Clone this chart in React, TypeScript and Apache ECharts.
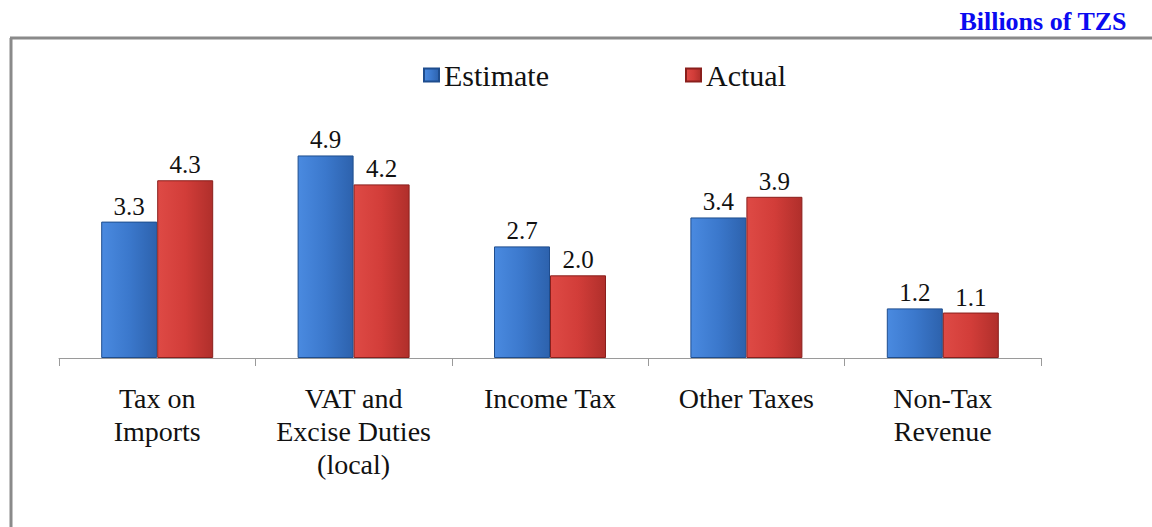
import React, { useEffect, useRef } from "react";
import * as echarts from "echarts";

const categories = ["Tax on\nImports", "VAT and\nExcise Duties\n(local)", "Income Tax", "Other Taxes", "Non-Tax\nRevenue"];
const estimate = [3.3, 4.9, 2.7, 3.4, 1.2];
const actual = [4.3, 4.2, 2.0, 3.9, 1.1];
const unitLabel = "Billions of TZS";

const serif = "'Liberation Serif', 'Times New Roman', serif";

export default function App() {
  const ref = useRef<HTMLDivElement>(null);
  useEffect(() => {
    document.body.style.margin = "0";
    const chart = echarts.init(ref.current!, null, { renderer: "svg" });
    const blue = new echarts.graphic.LinearGradient(0, 0, 1, 0, [
      { offset: 0, color: "#4a8ae0" },
      { offset: 0.5, color: "#3b78cc" },
      { offset: 1, color: "#2d62ad" },
    ]);
    const red = new echarts.graphic.LinearGradient(0, 0, 1, 0, [
      { offset: 0, color: "#de4a45" },
      { offset: 0.5, color: "#d23d39" },
      { offset: 1, color: "#b02f2b" },
    ]);
    const labelStyle = {
      show: true,
      position: "top" as const,
      distance: 3,
      fontFamily: serif,
      fontSize: 25,
      color: "#111",
      formatter: (p: any) => Number(p.value).toFixed(1),
    };
    chart.setOption({
      animation: false,
      backgroundColor: "#fff",
      graphic: [
        {
          type: "line",
          shape: { x1: 10, y1: 38, x2: 1152, y2: 38 },
          style: { stroke: "#8a8a8a", lineWidth: 3 },
        },
        {
          type: "line",
          shape: { x1: 11, y1: 38, x2: 11, y2: 527 },
          style: { stroke: "#8a8a8a", lineWidth: 3 },
        },
        {
          type: "text",
          right: 25,
          top: 8,
          style: {
            text: unitLabel,
            fontFamily: serif,
            fontWeight: "bold",
            fontSize: 26,
            fill: "#0a0af0",
          },
        },
      ],
      legend: [
        {
          data: ["Estimate"],
          left: 418,
          top: 55,
          itemWidth: 15,
          itemHeight: 13,
          icon: "rect",
          textStyle: { fontFamily: serif, fontSize: 30, color: "#111" },
        },
        {
          data: ["Actual"],
          left: 680,
          top: 55,
          itemWidth: 15,
          itemHeight: 13,
          icon: "rect",
          textStyle: { fontFamily: serif, fontSize: 30, color: "#111" },
        },
      ],
      grid: { left: 59, right: 111, top: 110, bottom: 169 },
      xAxis: {
        type: "category",
        data: categories,
        axisLine: { lineStyle: { color: "#9a9a9a", width: 1 } },
        axisTick: { show: true, length: 8, lineStyle: { color: "#9a9a9a" } },
        axisLabel: {
          interval: 0,
          margin: 24,
          fontFamily: serif,
          fontSize: 28,
          lineHeight: 33,
          color: "#111",
        },
      },
      yAxis: { type: "value", min: 0, max: 6, show: false, splitLine: { show: false } },
      series: [
        {
          name: "Estimate",
          type: "bar",
          data: estimate,
          barWidth: 56,
          barGap: "0%",
          itemStyle: { color: blue, borderColor: "#1e4d8e", borderWidth: 1 },
          label: labelStyle,
        },
        {
          name: "Actual",
          type: "bar",
          data: actual,
          barWidth: 56,
          itemStyle: { color: red, borderColor: "#8a1f1c", borderWidth: 1 },
          label: labelStyle,
        },
      ],
    });
    return () => chart.dispose();
  }, []);
  return <div ref={ref} style={{ width: 1152, height: 527 }} />;
}
